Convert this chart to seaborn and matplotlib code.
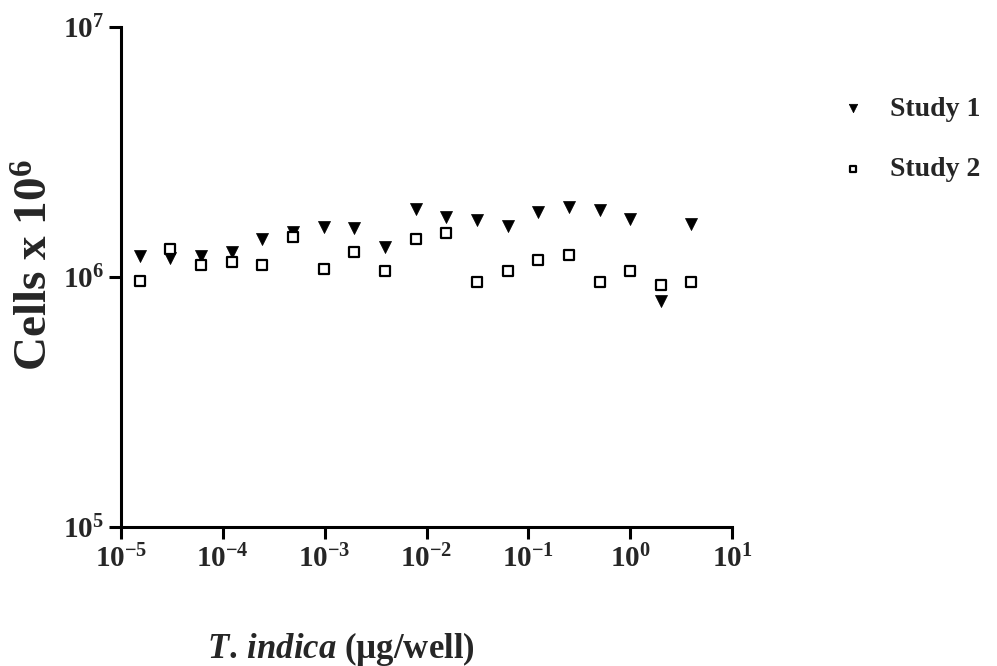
import numpy as np
import pandas as pd
import seaborn as sns
import matplotlib.pyplot as plt
from matplotlib.ticker import FixedLocator, FuncFormatter, NullLocator

# Data (two-fold dilution series)
dose = [1.53e-5, 3.05e-5, 6.10e-5, 1.22e-4, 2.44e-4, 4.88e-4, 9.77e-4,
        1.95e-3, 3.91e-3, 7.81e-3, 1.56e-2, 3.13e-2, 6.25e-2, 0.125,
        0.25, 0.5, 1.0, 2.0, 4.0]
study1 = [1.21e6, 1.185e6, 1.21e6, 1.26e6, 1.41e6, 1.51e6, 1.585e6,
          1.57e6, 1.32e6, 1.875e6, 1.74e6, 1.686e6, 1.595e6, 1.82e6,
          1.905e6, 1.85e6, 1.70e6, 0.80e6, 1.62e6]
study2 = [0.96e6, 1.29e6, 1.12e6, 1.148e6, 1.12e6, 1.437e6, 1.07e6,
          1.26e6, 1.054e6, 1.415e6, 1.49e6, 0.952e6, 1.057e6, 1.166e6,
          1.22e6, 0.955e6, 1.057e6, 0.927e6, 0.955e6]
x_ticks = [1e-5, 1e-4, 1e-3, 1e-2, 1e-1, 1e0, 1e1]
y_ticks = [1e5, 1e6, 1e7]

df = pd.DataFrame({'dose': dose, 'Study 1': study1, 'Study 2': study2})

sns.set_style('ticks')
plt.rcParams['font.family'] = ['Liberation Serif', 'DejaVu Serif']
plt.rcParams['font.weight'] = 'bold'
plt.rcParams['mathtext.fontset'] = 'custom'
plt.rcParams['mathtext.rm'] = 'Liberation Serif:bold'
plt.rcParams['mathtext.bf'] = 'Liberation Serif:bold'
plt.rcParams['mathtext.it'] = 'Liberation Serif:italic:bold'
plt.rcParams['mathtext.default'] = 'rm'

fig = plt.figure(figsize=(9.97, 6.66), dpi=100)
ax = fig.add_axes([0.1214, 0.2087, 0.6128, 0.7513])

sns.scatterplot(data=df, x='dose', y='Study 1', marker='v', s=75,
                color='black', edgecolor='black', linewidth=0.5,
                label='Study 1', ax=ax)
sns.scatterplot(data=df, x='dose', y='Study 2', marker='s', s=45,
                facecolor='white', edgecolor='black', linewidth=1.6,
                label='Study 2', ax=ax)

ax.set_xscale('log')
ax.set_yscale('log')
ax.set_xlim(1e-5, 1e1)
ax.set_ylim(1e5, 1e7)
ax.xaxis.set_major_locator(FixedLocator(x_ticks))
ax.yaxis.set_major_locator(FixedLocator(y_ticks))
ax.xaxis.set_minor_locator(NullLocator())
ax.yaxis.set_minor_locator(NullLocator())
fmt = FuncFormatter(lambda v, p: r'$10^{%d}$' % round(np.log10(v)))
ax.xaxis.set_major_formatter(fmt)
ax.yaxis.set_major_formatter(fmt)

sns.despine(ax=ax)
for side in ['left', 'bottom']:
    ax.spines[side].set_linewidth(2.2)
    ax.spines[side].set_color('black')
ax.tick_params(axis='both', direction='out', length=8.6, width=2.2,
               color='black', labelsize=21, pad=4)

ax.set_ylabel('Cells x $10^6$', fontsize=34, fontweight='bold')
ax.yaxis.set_label_coords(-0.103, 0.524)
ax.set_xlabel(r'$\mathit{T.\,indica}$ (µg/well)', fontsize=25,
              fontweight='bold')
ax.xaxis.set_label_coords(0.36, -0.205)

leg = ax.legend(loc='upper left', bbox_to_anchor=(0.817, 0.893),
                bbox_transform=fig.transFigure, frameon=False,
                fontsize=20, markerscale=0.7, handlelength=1.0,
                handletextpad=0.8, labelspacing=1.25)
for t in leg.get_texts():
    t.set_fontweight('bold')

fig.savefig('out.png', dpi=100)
